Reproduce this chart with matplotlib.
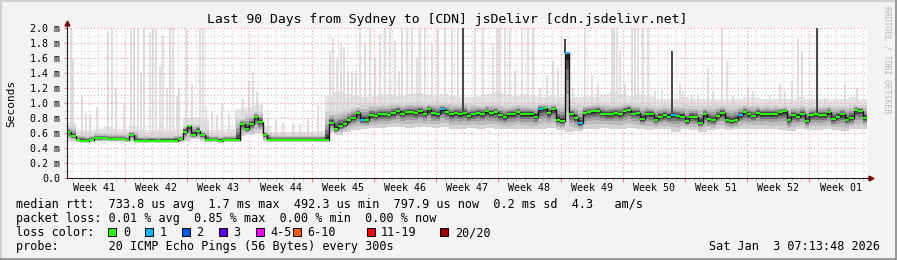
import numpy as np
import matplotlib
matplotlib.use('Agg')
import matplotlib.pyplot as plt
from matplotlib.lines import Line2D
from matplotlib.patches import Rectangle

plt.rcParams['font.family'] = 'DejaVu Sans Mono'

# median rtt (ms), one value per half day, 90 days
median_ms = [
    0.62, 0.56, 0.51, 0.50, 0.50, 0.51, 0.53, 0.53, 0.53, 0.52,
    0.52, 0.52, 0.52, 0.51, 0.58, 0.50, 0.50, 0.49, 0.50, 0.50,
    0.49, 0.50, 0.50, 0.50, 0.50, 0.52, 0.62, 0.70, 0.58, 0.63,
    0.57, 0.51, 0.51, 0.51, 0.50, 0.51, 0.51, 0.51, 0.51, 0.72,
    0.66, 0.72, 0.82, 0.75, 0.58, 0.51, 0.51, 0.51, 0.51, 0.51,
    0.51, 0.51, 0.51, 0.51, 0.51, 0.51, 0.51, 0.51, 0.51, 0.74,
    0.66, 0.70, 0.72, 0.77, 0.80, 0.87, 0.78, 0.77, 0.84, 0.83,
    0.85, 0.85, 0.84, 0.87, 0.90, 0.86, 0.88, 0.88, 0.87, 0.89,
    0.86, 0.92, 0.87, 0.85, 0.92, 0.88, 0.85, 0.87, 0.85, 0.87,
    0.83, 0.85, 0.87, 0.86, 0.89, 0.87, 0.88, 0.84, 0.81, 0.85,
    0.85, 0.88, 0.85, 0.85, 0.85, 0.82, 0.92, 0.93, 0.87, 0.92,
    0.78, 0.76, 1.67, 0.86, 0.80, 0.73, 0.87, 0.88, 0.89, 0.90,
    0.86, 0.85, 0.86, 0.87, 0.86, 0.90, 0.91, 0.86, 0.87, 0.79,
    0.86, 0.85, 0.78, 0.82, 0.84, 0.82, 0.84, 0.83, 0.82, 0.76,
    0.82, 0.81, 0.74, 0.85, 0.79, 0.77, 0.83, 0.87, 0.78, 0.76,
    0.78, 0.84, 0.88, 0.85, 0.83, 0.87, 0.85, 0.86, 0.85, 0.86,
    0.88, 0.89, 0.77, 0.84, 0.82, 0.86, 0.76, 0.84, 0.85, 0.84,
    0.84, 0.88, 0.79, 0.82, 0.85, 0.78, 0.80, 0.91, 0.90, 0.80,
]
# half-day slots with 1 lost ping
loss_one_idx = [66, 84, 106, 112, 115, 136, 151]

# per day: lowest ping, upper edge of dense smoke, top of light haze (ms)
smoke_lo = [
    0.50, 0.49, 0.49, 0.49, 0.50, 0.50, 0.50, 0.50, 0.48, 0.48,
    0.48, 0.48, 0.48, 0.50, 0.52, 0.50, 0.49, 0.49, 0.49, 0.56,
    0.58, 0.60, 0.50, 0.49, 0.49, 0.49, 0.49, 0.49, 0.49, 0.60,
    0.58, 0.62, 0.64, 0.66, 0.67, 0.67, 0.68, 0.68, 0.67, 0.68,
    0.68, 0.67, 0.68, 0.66, 0.66, 0.67, 0.66, 0.67, 0.66, 0.65,
    0.66, 0.66, 0.65, 0.66, 0.67, 0.64, 0.62, 0.63, 0.66, 0.66,
    0.67, 0.66, 0.66, 0.67, 0.66, 0.64, 0.65, 0.65, 0.62, 0.65,
    0.64, 0.62, 0.64, 0.66, 0.64, 0.65, 0.66, 0.66, 0.66, 0.65,
    0.64, 0.63, 0.65, 0.64, 0.64, 0.65, 0.64, 0.63, 0.65, 0.66,
]
smoke_hi = [
    0.68, 0.58, 0.57, 0.60, 0.60, 0.59, 0.59, 0.63, 0.57, 0.57,
    0.57, 0.57, 0.58, 0.70, 0.72, 0.64, 0.57, 0.57, 0.58, 0.80,
    0.85, 0.88, 0.62, 0.57, 0.57, 0.57, 0.57, 0.57, 0.58, 0.88,
    0.90, 0.92, 0.95, 0.97, 0.98, 0.98, 1.00, 1.00, 1.00, 1.01,
    1.00, 1.01, 1.00, 0.99, 1.00, 0.99, 0.98, 0.99, 0.98, 0.97,
    0.98, 0.98, 0.97, 0.99, 1.00, 0.99, 0.96, 0.97, 0.98, 0.99,
    0.99, 0.98, 0.99, 1.00, 0.98, 0.97, 0.96, 0.97, 0.96, 0.97,
    0.96, 0.96, 0.97, 0.97, 0.96, 0.97, 0.98, 0.98, 0.97, 0.97,
    0.96, 0.96, 0.97, 0.96, 0.96, 0.97, 0.96, 0.96, 0.98, 0.97,
]
haze_top = [
    0.75, 0.64, 0.64, 0.66, 0.68, 0.66, 0.66, 0.70, 0.64, 0.64,
    0.66, 0.64, 0.66, 0.80, 0.82, 0.78, 0.64, 0.64, 0.66, 0.92,
    0.95, 0.98, 0.70, 0.62, 0.62, 0.62, 0.62, 0.62, 0.63, 1.10,
    1.15, 1.12, 1.10, 1.08, 1.10, 1.12, 1.12, 1.10, 1.12, 1.14,
    1.12, 1.10, 1.12, 1.10, 1.08, 1.08, 1.10, 1.12, 1.15, 1.12,
    1.10, 1.12, 1.10, 1.08, 1.10, 1.08, 1.06, 1.08, 1.10, 1.08,
    1.12, 1.15, 1.12, 1.10, 1.12, 1.10, 1.06, 1.05, 1.06, 1.08,
    1.06, 1.05, 1.06, 1.05, 1.06, 1.06, 1.08, 1.07, 1.06, 1.06,
    1.05, 1.06, 1.08, 1.06, 1.05, 1.06, 1.06, 1.05, 1.08, 1.06,
]

# single high pings (light smoke spikes): day, top (ms)
spike_day = [
    0.45, 0.67, 1.69, 2.14, 2.59, 3.37, 4.61, 5.06, 5.51, 6.41,
    7.20, 7.54, 7.99, 8.33, 8.66, 9.34, 9.67, 10.01, 10.46, 10.80,
    11.25, 11.59, 11.92, 12.37, 12.60, 13.39, 14.06, 14.96, 15.30, 15.64,
    16.31, 16.88, 17.44, 18.22, 19.01, 19.80, 20.47, 20.92, 21.37, 21.94,
    22.61, 23.51, 24.30, 25.42, 26.21, 27.11, 28.24,
    29.59, 29.92, 30.37, 30.82, 31.16, 31.61, 32.06, 32.51, 32.96, 33.52,
    34.09, 34.65, 35.21, 35.77, 36.34, 36.90, 37.35, 37.69, 38.25, 38.81,
    39.37, 39.71, 40.27, 41.06, 41.74, 42.52, 43.31, 43.99, 45.90, 46.80,
    47.92, 48.37, 48.71, 49.27, 49.84, 50.40, 51.19, 51.86, 52.42, 53.21,
    54.00, 54.67, 55.24, 56.92, 58.27, 59.06, 59.74, 61.31, 61.54, 61.87,
    62.21, 62.77, 63.56, 63.90, 64.24, 64.80, 65.36, 66.15, 66.94, 68.96,
    69.30, 70.31, 70.99, 72.11, 72.67, 73.69, 74.25, 74.92, 76.61, 77.17,
    79.09, 80.21, 80.77, 81.56, 82.24, 82.69, 83.81, 85.27, 87.52, 88.87,
]
spike_top = [
    2.00, 1.60, 1.10, 0.87, 0.85, 0.95, 1.95, 2.00, 1.20, 1.00,
    2.00, 2.00, 2.00, 1.40, 2.00, 1.95, 2.00, 2.00, 1.50, 1.90,
    1.20, 2.00, 2.00, 1.10, 1.20, 2.00, 1.25, 2.00, 2.00, 0.95,
    0.90, 0.84, 1.00, 0.85, 0.90, 1.05, 1.30, 1.42, 1.15, 1.00,
    0.80, 0.78, 0.75, 0.72, 0.72, 0.80, 0.98,
    1.70, 1.87, 1.60, 1.80, 1.75, 1.43, 1.43, 1.43, 2.00, 1.80,
    2.00, 1.60, 1.92, 2.00, 2.00, 1.83, 1.43, 2.00, 2.00, 2.00,
    1.60, 2.00, 2.00, 1.80, 2.00, 2.00, 2.00, 2.00, 2.00, 2.00,
    1.80, 2.00, 2.00, 2.00, 2.00, 1.43, 2.00, 2.00, 2.00, 1.20,
    1.38, 1.56, 1.47, 1.20, 2.00, 1.38, 1.25, 2.00, 2.00, 2.00,
    1.70, 1.25, 2.00, 2.00, 2.00, 2.00, 2.00, 1.16, 1.16, 1.25,
    1.16, 1.11, 1.11, 1.47, 1.16, 2.00, 1.56, 1.09, 1.20, 1.16,
    1.11, 1.25, 1.16, 1.29, 1.87, 1.70, 1.07, 1.07, 1.25, 1.20,
]
# columns where most pings were high (dark smoke spikes)
dark_day = [44.55, 56.02, 68.06, 84.37]
dark_top = [2.00, 1.85, 1.70, 2.00]

week_names = ['Week 41', 'Week 42', 'Week 43', 'Week 44', 'Week 45', 'Week 46', 'Week 47',
              'Week 48', 'Week 49', 'Week 50', 'Week 51', 'Week 52', 'Week 01']
first_week_edge = 6.52

loss_names = ['0', '1', '2', '3', '4-5', '6-10', '11-19', '20/20']
loss_colors = ['#26ff00', '#00b8ff', '#0059ff', '#5e00ff', '#ff00ff', '#ff5e00', '#ff0000', '#a10000']

W, H = 897, 260
fx = lambda px: px / W
fy = lambda py: 1 - py / H

fig = plt.figure(figsize=(W / 100, H / 100), dpi=100, facecolor='#f3f3f3')
ax = fig.add_axes([fx(67), fy(178), 800 / W, 150 / H])
ax.set_facecolor('white')
ax.set_xlim(0, 90)
ax.set_ylim(0, 2.0)

med = np.array(median_ms)
n = len(med)
edges = np.arange(n + 1) * 0.5
lo = np.minimum(np.repeat(smoke_lo, 2), med)
hi = np.maximum(np.repeat(smoke_hi, 2), med)
hz = np.maximum(np.repeat(haze_top, 2), hi)
ext = lambda a: np.append(a, a[-1])

# light haze and single-ping spikes
ax.fill_between(edges, ext(lo), ext(hz), step='post', color='#e4e4e4', lw=0, zorder=1)
base = [smoke_lo[min(int(d), 89)] for d in spike_day]
ax.vlines(spike_day, base, spike_top, color='#dadada', lw=1.2, zorder=1)

# smoke, darker towards the median
shades = ['#d2d2d2', '#bcbcbc', '#9e9e9e', '#777777', '#4c4c4c', '#232323']
fracs = [1.0, 0.75, 0.52, 0.34, 0.2, 0.09]
for f, c in zip(fracs, shades):
    ax.fill_between(edges, ext(med - f * (med - lo)), ext(med + f * (hi - med)),
                    step='post', color=c, lw=0, zorder=2)

dark_base = [med[min(int(d * 2), n - 1)] for d in dark_day]
ax.vlines(dark_day, dark_base, dark_top, color='#454545', lw=1.4, zorder=2.5)

# median line coloured by loss
ax.plot(edges, ext(med), drawstyle='steps-post', color='#111111', lw=1.0, zorder=3)
seg_colors = [loss_colors[1] if i in loss_one_idx else loss_colors[0] for i in range(n)]
ax.hlines(med, edges[:-1], edges[1:], colors=seg_colors, lw=1.5, zorder=4)

# grid
bounds = first_week_edge + 7 * np.arange(12)
minor_days = np.arange(first_week_edge % 1, 90, 1.0)
ax.set_xticks(bounds)
ax.set_xticklabels([])
ax.set_xticks(minor_days, minor=True)
yt = np.round(np.arange(0, 2.01, 0.2), 1)
ax.set_yticks(yt)
ax.set_yticklabels(['0.0'] + ['%.1f m' % v for v in yt[1:]])
ax.set_yticks(np.arange(0.1, 2.0, 0.2), minor=True)
ax.set_axisbelow('line')
ax.grid(which='major', color='#f39a9a', linestyle=(0, (1, 2)), lw=0.8)
ax.grid(which='minor', color='#cdcdcd', linestyle=(0, (1, 2)), lw=0.8)
ax.tick_params(axis='x', which='major', length=3, color='#f08080')
ax.tick_params(axis='x', which='minor', length=2, color='#c8c8c8')
ax.tick_params(axis='y', which='major', length=2, color='#f08080', labelsize=7.2, pad=3)
ax.tick_params(axis='y', which='minor', length=2, color='#c8c8c8')
for s in ['top', 'right']:
    ax.spines[s].set_visible(False)
for s in ['left', 'bottom']:
    ax.spines[s].set_color('#202020')
    ax.spines[s].set_linewidth(0.8)
    ax.spines[s].set_zorder(5)

# axis arrows
ax.plot([0, 0], [2.0, 2.04], color='#202020', lw=0.8, clip_on=False, zorder=5)
ax.plot(0, 2.07, marker='^', ms=3.5, color='#800000', clip_on=False, zorder=5)
ax.plot([90, 90.2], [0, 0], color='#202020', lw=0.8, clip_on=False, zorder=5)
ax.plot(90.45, 0, marker='>', ms=3.5, color='#800000', clip_on=False, zorder=5)

for k, name in enumerate(week_names):
    ax.text(first_week_edge - 3.5 + 7 * k, -13 / 150, name, transform=ax.get_xaxis_transform(),
            ha='center', va='baseline', fontsize=7.2)

fig.text(fx(447), fy(19), 'Last 90 Days from Sydney to [CDN] jsDelivr [cdn.jsdelivr.net]',
         ha='center', va='center', fontsize=9.45)
fig.text(fx(11), fy(103), 'Seconds', rotation=90, ha='center', va='center', fontsize=8)
fig.text(fx(887), fy(60), 'RRDTOOL / TOBI OETIKER', rotation=270, ha='center', va='center',
         fontsize=5.9, color='#b8b8b8')

legend_lines = [
    'median rtt:  733.8 us avg  1.7 ms max  492.3 us min  797.9 us now  0.2 ms sd  4.3   am/s',
    'packet loss: 0.01 % avg  0.85 % max  0.00 % min  0.00 % now',
    'loss color:',
    'probe:       20 ICMP Echo Pings (56 Bytes) every 300s',
]
for k, line in enumerate(legend_lines):
    fig.text(fx(16), fy(208 + 14 * k), line, ha='left', va='baseline', fontsize=8.5)

box_x = [108.3, 145.2, 182.1, 219.0, 255.9, 292.8, 366.6, 440.4]
for bx, name, c in zip(box_x, loss_names, loss_colors):
    fig.add_artist(Rectangle((fx(bx), fy(235.5)), 8 / W, 8 / H, transform=fig.transFigure,
                             facecolor=c, edgecolor='black', lw=0.7))
    fig.text(fx(bx + 14.5), fy(236), name, ha='left', va='baseline', fontsize=8.5)

fig.text(fx(880), fy(250), 'Sat Jan  3 07:13:48 2026', ha='right', va='baseline', fontsize=8.5)

# 3d frame
fig.add_artist(Line2D([fx(1), fx(1)], [0, 1], color='#d0d0d0', lw=1.44, transform=fig.transFigure))
fig.add_artist(Line2D([0, 1], [fy(1), fy(1)], color='#d0d0d0', lw=1.44, transform=fig.transFigure))
fig.add_artist(Line2D([fx(W - 1), fx(W - 1)], [0, 1], color='#9a9a9a', lw=1.44, transform=fig.transFigure))
fig.add_artist(Line2D([0, 1], [fy(H - 1), fy(H - 1)], color='#9a9a9a', lw=1.44, transform=fig.transFigure))

fig.savefig('out.png', dpi=100, facecolor=fig.get_facecolor())
